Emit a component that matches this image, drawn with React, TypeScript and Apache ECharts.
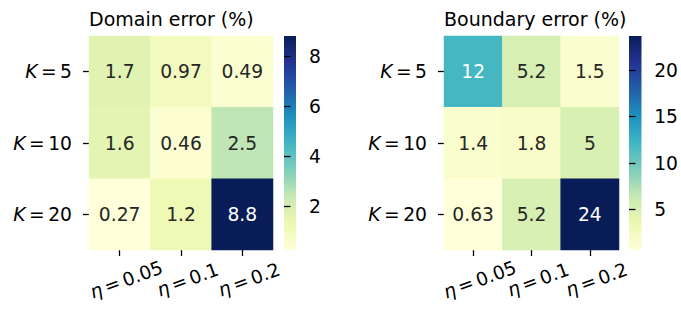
import React, { useEffect, useRef } from 'react';
import * as echarts from 'echarts';

// ---- data ----
const etaLabels = ['0.05', '0.1', '0.2'];
const kLabels = ['5', '10', '20'];
// rows: K = 5, 10, 20 ; columns: eta = 0.05, 0.1, 0.2
const domainError = [
  [1.7, 0.97, 0.49],
  [1.6, 0.46, 2.5],
  [0.27, 1.2, 8.8],
];
const boundaryError = [
  [12, 5.2, 1.5],
  [1.4, 1.8, 5],
  [0.63, 5.2, 23.7],
];
const domainTicks = [2, 4, 6, 8];
const boundaryTicks = [5, 10, 15, 20];
const titles = ['Domain error (%)', 'Boundary error (%)'];

// ---- style ----
const YLGNBU = ['#ffffd9', '#edf8b1', '#c7e9b4', '#7fcdbb', '#41b6c4', '#1d91c0', '#225ea8', '#253494', '#081d58'];
const FONT = 'DejaVu Sans';
const FS = 18.7;
const TFS = 19;
const TOP = 36;
const H = 214;
const panels = [
  { left: 89, width: 184, cbLeft: 284, cbWidth: 12 },
  { left: 444, width: 175, cbLeft: 629, cbWidth: 12.5 },
];

function hexToRgb(h: string) {
  return [parseInt(h.slice(1, 3), 16), parseInt(h.slice(3, 5), 16), parseInt(h.slice(5, 7), 16)];
}
function cmap(t: number) {
  const p = Math.max(0, Math.min(1, t)) * (YLGNBU.length - 1);
  const i = Math.min(YLGNBU.length - 2, Math.floor(p));
  const f = p - i;
  const a = hexToRgb(YLGNBU[i]);
  const b = hexToRgb(YLGNBU[i + 1]);
  return a.map((v, k) => v + (b[k] - v) * f);
}
function luminance(rgb: number[]) {
  const lin = (c: number) => {
    c /= 255;
    return c <= 0.03928 ? c / 12.92 : Math.pow((c + 0.055) / 1.055, 2.4);
  };
  return 0.2126 * lin(rgb[0]) + 0.7152 * lin(rgb[1]) + 0.0722 * lin(rgb[2]);
}
const fmt = (v: number) => String(Number(v.toPrecision(2)));

const richBase = { fontFamily: FONT, fontSize: FS, color: '#000' };
const rich = {
  i: { ...richBase, fontStyle: 'italic' },
  e: { ...richBase, padding: [0, 3.5] },
  n: { ...richBase },
};

export default function App() {
  const ref = useRef<HTMLDivElement>(null);
  useEffect(() => {
    if (!ref.current) return;
    const chart = echarts.init(ref.current, null, { renderer: 'svg' });
    const matrices = [domainError, boundaryError];
    const ticks = [domainTicks, boundaryTicks];

    const grids: any[] = [];
    const xAxes: any[] = [];
    const yAxes: any[] = [];
    const visualMaps: any[] = [];
    const series: any[] = [];
    const graphics: any[] = [];
    const titleOpts: any[] = [];

    panels.forEach((p) => {
      grids.push({ left: p.left, top: TOP, width: p.width, height: H });
    });
    panels.forEach((p) => {
      grids.push({ left: p.cbLeft, top: TOP, width: p.cbWidth, height: H });
    });

    panels.forEach((p, i) => {
      const m = matrices[i];
      const flat = m.flat();
      const vmin = Math.min(...flat);
      const vmax = Math.max(...flat);

      titleOpts.push({
        text: titles[i],
        left: p.left,
        top: 9.5,
        padding: 0,
        textStyle: { fontFamily: FONT, fontSize: TFS, fontWeight: 'normal', color: '#000', lineHeight: TFS },
      });

      xAxes[i] = {
        type: 'category',
        gridIndex: i,
        data: etaLabels,
        axisLine: { show: false },
        axisTick: { show: true, alignWithLabel: true, length: 6, lineStyle: { color: '#000', width: 1.3 } },
        splitLine: { show: false },
        axisLabel: {
          interval: 0,
          rotate: 20,
          align: 'center',
          verticalAlign: 'middle',
          margin: 32,
          padding: [0, 0, 0, 14],
          formatter: (v: string) => `{i|η}{e|=}{n|${v}}`,
          rich,
        },
      };
      yAxes[i] = {
        type: 'category',
        gridIndex: i,
        inverse: true,
        data: kLabels,
        axisLine: { show: false },
        axisTick: { show: true, alignWithLabel: true, length: 6, lineStyle: { color: '#000', width: 1.3 } },
        splitLine: { show: false },
        axisLabel: {
          interval: 0,
          margin: 17,
          formatter: (v: string) => `{i|K}{e|=}{n|${v}}`,
          rich,
        },
      };
      xAxes[i + 2] = { type: 'value', gridIndex: i + 2, min: 0, max: 1, show: false };
      yAxes[i + 2] = {
        type: 'value',
        gridIndex: i + 2,
        position: 'right',
        min: vmin,
        max: vmax,
        axisLine: { show: false },
        splitLine: { show: false },
        axisTick: { show: true, length: 6.5, customValues: ticks[i], lineStyle: { color: '#000', width: 1.3 } },
        axisLabel: {
          margin: 13,
          customValues: ticks[i],
          fontFamily: FONT,
          fontSize: FS,
          color: '#000',
        },
      };

      visualMaps.push({
        type: 'continuous',
        show: false,
        seriesIndex: i,
        dimension: 2,
        min: vmin,
        max: vmax,
        inRange: { color: YLGNBU },
      });

      const data: any[] = [];
      m.forEach((row, r) => {
        row.forEach((v, c) => {
          const lum = luminance(cmap((v - vmin) / (vmax - vmin)));
          data.push({ value: [c, r, v], label: { color: lum > 0.408 ? '#262626' : '#ffffff' } });
        });
      });
      series.push({
        type: 'heatmap',
        xAxisIndex: i,
        yAxisIndex: i,
        data,
        itemStyle: { borderWidth: 0 },
        emphasis: { disabled: true },
        label: {
          show: true,
          fontFamily: FONT,
          fontSize: FS,
          formatter: (prm: any) => fmt(prm.value[2]),
        },
      });

      graphics.push({
        type: 'rect',
        shape: { x: p.cbLeft, y: TOP, width: p.cbWidth, height: H },
        style: {
          fill: {
            type: 'linear',
            x: 0,
            y: 1,
            x2: 0,
            y2: 0,
            colorStops: YLGNBU.map((c, k) => ({ offset: k / (YLGNBU.length - 1), color: c })),
          },
        },
        silent: true,
      });
    });

    chart.setOption({
      animation: false,
      backgroundColor: '#ffffff',
      title: titleOpts,
      grid: grids,
      xAxis: xAxes,
      yAxis: yAxes,
      visualMap: visualMaps,
      series,
      graphic: graphics,
    });
    return () => chart.dispose();
  }, []);
  return <div ref={ref} style={{ position: 'fixed', left: 0, top: 0, width: 681, height: 312 }} />;
}
